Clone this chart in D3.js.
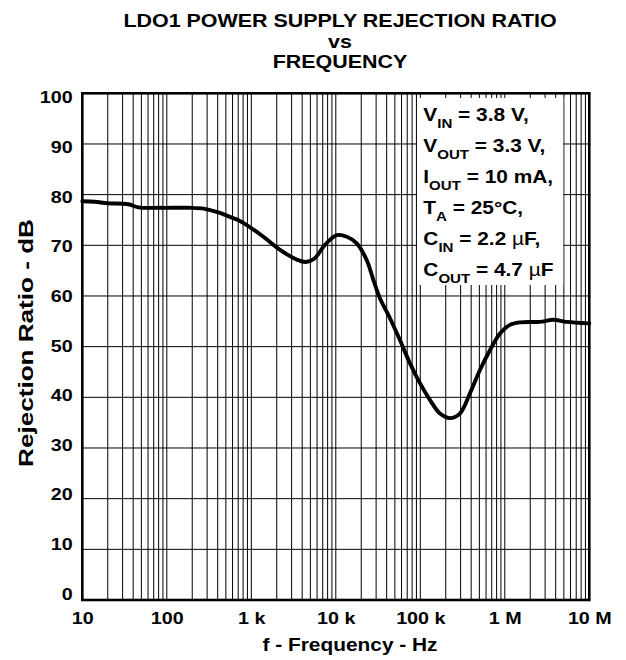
<!DOCTYPE html>
<html>
<head>
<meta charset="utf-8">
<script src="https://cdn.jsdelivr.net/npm/d3@7"></script>
<style>
  html, body { margin: 0; padding: 0; background: #fff; }
  svg { display: block; }
  text { font-family: "Liberation Sans", Arial, Helvetica, sans-serif; font-weight: bold; fill: #000; }
</style>
</head>
<body>
<div id="chart"></div>
<script>
// ---- data ----
const freqHz = [10, 14, 20, 35, 46, 86, 178, 281, 442, 560, 697, 883, 1390, 2190, 3440, 4400, 5600, 7450, 10300, 13500, 17700, 23200, 27800, 33400, 43800, 57400, 75500, 99000, 130000, 171000, 224000, 294000, 387000, 508000, 667000, 877000, 1150000, 1510000, 2600000, 3750000, 5400000, 10000000];
const psrrDb = [78.7, 78.6, 78.3, 78.1, 77.5, 77.4, 77.4, 77.2, 76.3, 75.6, 75.0, 74.0, 71.7, 69.1, 67.2, 66.7, 67.4, 70.1, 72.0, 71.7, 70.4, 67.1, 63.2, 59.5, 55.6, 51.3, 46.7, 42.8, 39.5, 36.8, 35.9, 36.8, 40.8, 45.4, 49.3, 52.6, 54.3, 54.8, 54.9, 55.3, 54.9, 54.6];

const xTickValues = [10, 100, 1e3, 1e4, 1e5, 1e6, 1e7];
const xTickLabels = ["10", "100", "1 k", "10 k", "100 k", "1 M", "10 M"];
const yTickValues = [0, 10, 20, 30, 40, 50, 60, 70, 80, 90, 100];
const yTickLabels = ["0", "10", "20", "30", "40", "50", "60", "70", "80", "90", "100"];

const titleLines = ["LDO1 POWER SUPPLY REJECTION RATIO", "vs", "FREQUENCY"];
const xAxisTitle = "f - Frequency - Hz";
const yAxisTitle = "Rejection Ratio - dB";
const legendMain = ["V", "V", "I", "T", "C", "C"];
const legendSub = ["IN", "OUT", "OUT", "A", "IN", "OUT"];
const legendRest = [" = 3.8 V,", " = 3.3 V,", " = 10 mA,", " = 25°C,", " = 2.2 ", " = 4.7 "];
const legendUnit = ["", "", "", "", "µF,", "µF"];

// ---- layout ----
const W = 626, H = 660;
const SX = 1.16; // horizontal glyph stretch
const mLeft = 82.3, mRight = 589.3, mTop = 93.3, mBottom = 600;

const svg = d3.select("#chart").append("svg")
  .attr("width", W).attr("height", H);
svg.append("rect").attr("width", W).attr("height", H).attr("fill", "#fff");

const x = d3.scaleLog().domain([10, 1e7]).range([mLeft, mRight]);
const y = d3.scaleLinear().domain([0, 100]).range([mBottom, mTop]);
const yLabel = d3.scaleLinear().domain([0, 100]).range([593, 96.8]);

// ---- grid ----
const minorVals = [];
for (let d = 10; d < 1e7; d *= 10) {
  for (let k = 1; k <= 9; k++) minorVals.push(d * k);
}
const grid = svg.append("g").attr("class", "grid");
grid.selectAll("line.v").data(minorVals).join("line")
  .attr("class", "v")
  .attr("x1", d => x(d)).attr("x2", d => x(d))
  .attr("y1", mTop).attr("y2", mBottom)
  .attr("stroke", "#000").attr("stroke-width", 1);
grid.selectAll("line.h").data(yTickValues).join("line")
  .attr("class", "h")
  .attr("x1", mLeft).attr("x2", mRight)
  .attr("y1", d => y(d)).attr("y2", d => y(d))
  .attr("stroke", "#000").attr("stroke-width", 1);

// ---- legend box (white block over grid) ----
const box = { x0: 9e4, x1: 5e6, y0: 98, y1: 285 };
svg.append("rect")
  .attr("x", x(box.x0) + 0.6).attr("y", box.y0)
  .attr("width", x(box.x1) - x(box.x0) - 1.2)
  .attr("height", box.y1 - box.y0)
  .attr("fill", "#fff");

const legG = svg.append("g");
legendMain.forEach((m, i) => {
  const t = legG.append("text")
    .attr("transform", `translate(423.3,${120.7 + i * 31.1}) scale(${SX},1)`)
    .attr("font-size", 18);
  t.append("tspan").text(m);
  t.append("tspan").attr("font-size", 13).attr("dy", 7).text(legendSub[i]);
  t.append("tspan").attr("dy", -7).text(legendRest[i]);
  if (legendUnit[i]) {
    t.append("tspan").attr("font-weight", "normal").text(legendUnit[i].slice(0, 1));
    t.append("tspan").text(legendUnit[i].slice(1));
  }
});

// ---- curve ----
const pts = freqHz.map((f, i) => [f, psrrDb[i]]);
const line = d3.line()
  .x(d => x(d[0])).y(d => y(d[1]))
  .curve(d3.curveCatmullRom.alpha(0.5));
svg.append("path").datum(pts)
  .attr("d", line)
  .attr("fill", "none").attr("stroke", "#000")
  .attr("stroke-width", 3.9)
  .attr("stroke-linejoin", "round").attr("stroke-linecap", "round");

// ---- axes ----
const xAxis = d3.axisBottom(x).tickValues(xTickValues)
  .tickFormat((d, i) => xTickLabels[i]).tickSize(0);
const gx = svg.append("g").attr("transform", `translate(0,${mBottom})`).call(xAxis);
gx.select(".domain").remove();
gx.selectAll("text")
  .attr("y", null).attr("dy", null)
  .attr("transform", `translate(0,24) scale(${SX},1)`)
  .attr("font-size", 17)
  .attr("text-anchor", "middle");
gx.attr("font-family", null).attr("font-size", null);

const yAxis = d3.axisLeft(yLabel).tickValues(yTickValues)
  .tickFormat((d, i) => yTickLabels[i]).tickSize(0);
const gy = svg.append("g").attr("transform", `translate(${mLeft},0)`).call(yAxis);
gy.select(".domain").remove();
gy.selectAll("text")
  .attr("x", null).attr("dy", "0.36em")
  .attr("transform", `translate(-9.6,0) scale(${SX},1)`)
  .attr("font-size", 17)
  .attr("text-anchor", "end");
gy.attr("font-family", null).attr("font-size", null);

// frame
svg.append("rect")
  .attr("x", mLeft).attr("y", mTop)
  .attr("width", mRight - mLeft).attr("height", mBottom - mTop)
  .attr("fill", "none").attr("stroke", "#000").attr("stroke-width", 2.6);

// ---- titles ----
const titleY = [27.3, 47.8, 68.3];
titleLines.forEach((s, i) => {
  svg.append("text")
    .attr("transform", `translate(340,${titleY[i]}) scale(${SX},1)`)
    .attr("text-anchor", "middle").attr("font-size", 18.5)
    .text(s);
});

svg.append("text")
  .attr("transform", `translate(350,651.3) scale(${SX},1)`)
  .attr("text-anchor", "middle").attr("font-size", 18)
  .text(xAxisTitle);

svg.append("text")
  .attr("transform", `translate(25,343) scale(${SX},1.45) rotate(-90)`)
  .attr("text-anchor", "middle").attr("dy", "0.36em").attr("font-size", 18)
  .text(yAxisTitle);
</script>
</body>
</html>
